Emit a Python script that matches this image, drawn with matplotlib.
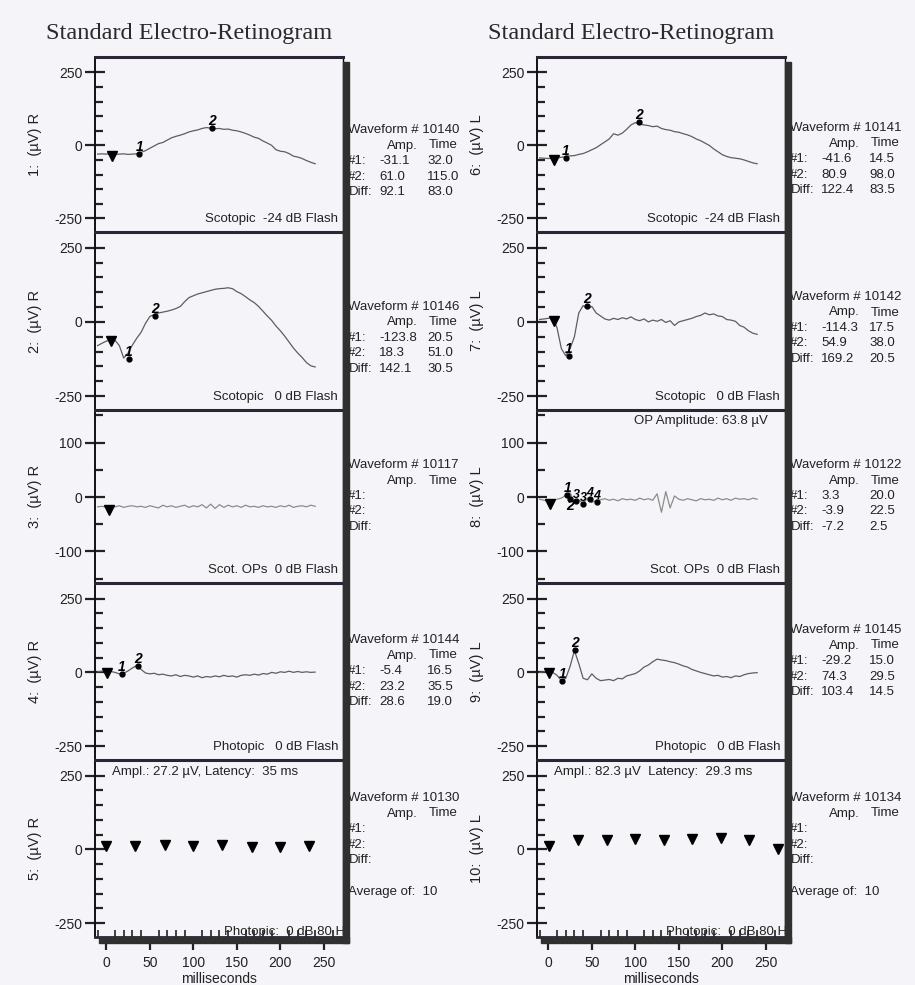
import numpy as np
import matplotlib
matplotlib.use('Agg')
import matplotlib.pyplot as plt
from matplotlib.patches import Rectangle
from matplotlib.ticker import FixedLocator

plt.rcParams['font.family'] = ['Liberation Sans', 'DejaVu Sans']
plt.rcParams['axes.unicode_minus'] = False

###############################################################################
# data
###############################################################################
# sample grid of the traces (ms)
time_ms = np.arange(-10, 245, 5)

# right eye
erg_r_scot24 = [-30, -29, -30, -29, -31, -30, -29, -31, -30, -29, -24, -18, -10, -2, 6, 10, 18, 26, 31, 35,
                40, 46, 50, 53, 58, 61, 59, 57, 58, 55, 56, 52, 50, 46, 41, 35, 28, 24, 15, 8,
                0, -15, -20, -22, -28, -37, -40, -45, -52, -58, -63]
erg_r_scot0 = [-80, -72, -65, -60, -62, -80, -122, -105, -78, -55, -35, -5, 18, 25, 30, 33, 36, 40, 45, 52,
               68, 82, 88, 94, 98, 102, 106, 110, 112, 113, 115, 112, 102, 95, 85, 74, 65, 52, 36, 20,
               5, -14, -30, -48, -68, -88, -105, -120, -137, -148, -152]
erg_r_ops = [-18, -17, -19, -17, -18, -16, -19, -17, -16, -18, -17, -19, -16, -18, -20, -15, -18, -16, -19, -17,
             -15, -19, -16, -18, -14, -20, -13, -21, -14, -19, -15, -18, -16, -19, -15, -18, -17, -19, -16, -18,
             -17, -19, -16, -18, -15, -19, -17, -16, -18, -15, -17]
erg_r_phot = [2, 4, 5, 3, 0, -5, -3, 5, 15, 23, 10, -2, -5, -3, -8, -6, -10, -12, -8, -14,
              -10, -12, -16, -12, -18, -14, -16, -12, -15, -10, -14, -12, -16, -10, -8, -10, -6, -9, -4, -6,
              0, -3, 2, 0, 4, 0, 3, 0, 2, 0, 1]

# left eye
erg_l_scot24 = [-43, -44, -45, -44, -42, -41, -38, -36, -35, -31, -28, -22, -15, -8, 2, 12, 22, 40, 35, 42,
                55, 70, 78, 73, 70, 68, 64, 66, 58, 54, 52, 47, 45, 40, 36, 30, 22, 16, 8, 0,
                -12, -22, -32, -38, -42, -44, -46, -50, -55, -60, -63]
erg_l_scot0 = [8, 10, 12, 15, -20, -90, -114, -90, -50, 30, 55, 45, 52, 30, 20, 10, 6, 12, 8, 14,
               10, 17, 8, 4, 10, 0, 6, 2, 8, -2, 4, -12, 0, 4, 8, 12, 18, 22, 30, 24,
               27, 20, 18, 8, 6, 2, -12, -18, -30, -38, -42]
erg_l_ops = [-4, -6, -8, -6, -4, -2, 3, 8, -10, -5, -12, -2, -10, -6, -5, -3, -6, -4, -7, -3,
             -5, -4, -6, -2, -5, -3, -6, 6, -28, 10, -20, 2, -4, -6, -3, -5, -7, -3, -5, -4,
             -6, -2, -5, -3, -6, -2, -4, -3, -5, -2, -4]
erg_l_phot = [0, 2, 3, 0, -10, -28, -20, 20, 74, 30, -20, -25, -5, -20, -28, -26, -24, -28, -20, -22,
              -12, -8, -4, 5, 18, 25, 36, 45, 42, 40, 36, 33, 28, 22, 18, 10, 5, 0, -4, -8,
              -12, -10, -16, -14, -18, -12, -14, -8, -4, -2, -1]

# flicker response markers (30 Hz, no trace printed)
flick_t_r = [0, 33, 67, 100, 133, 167, 200, 233]
flick_a_r = [12, 12, 16, 12, 14, 7, 9, 11]
flick_t_l = [1, 34, 67, 100, 133, 165, 199, 231, 264]
flick_a_l = [11, 31, 31, 35, 31, 36, 38, 33, 3]

# flash onset (triangle) per panel, ms
flash_r = [6, 5, 3, 1]
flash_l = [6, 6, 2, 1]

# waveform tables
wave_no_r = ['10140', '10146', '10117', '10144', '10130']
amp1_r = [-31.1, -123.8, None, -5.4, None]
time1_r = [32.0, 20.5, None, 16.5, None]
amp2_r = [61.0, 18.3, None, 23.2, None]
time2_r = [115.0, 51.0, None, 35.5, None]
diffa_r = [92.1, 142.1, None, 28.6, None]
difft_r = [83.0, 30.5, None, 19.0, None]

wave_no_l = ['10141', '10142', '10122', '10145', '10134']
amp1_l = [-41.6, -114.3, 3.3, -29.2, None]
time1_l = [14.5, 17.5, 20.0, 15.0, None]
amp2_l = [80.9, 54.9, -3.9, 74.3, None]
time2_l = [98.0, 38.0, 22.5, 29.5, None]
diffa_l = [122.4, 169.2, -7.2, 103.4, None]
difft_l = [83.5, 20.5, 2.5, 14.5, None]

# extra OP peak labels in panel 8 (time after flash, amplitude)
op_lab = ['3', '3', '4', '4']
op_time = [30, 38, 46, 54]
op_amp = [-8, -12, -4, -10]

cond_r = ['Scotopic  -24 dB Flash', 'Scotopic   0 dB Flash', 'Scot. OPs  0 dB Flash',
          'Photopic   0 dB Flash', 'Photopic:  0 dB 80 Hz']
cond_l = cond_r
ylab_r = ['1:  (\u00b5V) R', '2:  (\u00b5V) R', '3:  (\u00b5V) R', '4:  (\u00b5V) R', '5:  (\u00b5V) R']
ylab_l = ['6:  (\u00b5V) L', '7:  (\u00b5V) L', '8:  (\u00b5V) L', '9:  (\u00b5V) L', '10:  (\u00b5V) L']
flick_txt_r = 'Ampl.: 27.2 \u00b5V, Latency:  35 ms'
flick_txt_l = 'Ampl.: 82.3 \u00b5V  Latency:  29.3 ms'
op_txt_l = 'OP Amplitude: 63.8 \u00b5V'

###############################################################################
# layout (pixels of the 915 x 985 page)
###############################################################################
W, H = 915, 985
paper = '#f5f4f8'
ink = '#222222'
rows = [(57, 232), (232, 410), (410, 583), (583, 760), (760, 937)]
table_y_r = [130, 307, 465, 640, 798]
table_y_l = [128, 297, 465, 630, 798]

fig = plt.figure(figsize=(W / 100, H / 100), dpi=100)
fig.patch.set_facecolor(paper)


def px_axes(x0, y0, x1, y1):
    return fig.add_axes([x0 / W, 1 - y1 / H, (x1 - x0) / W, (y1 - y0) / H])


def ftxt(x, y, s, **kw):
    fig.text(x / W, 1 - y / H, s, fontsize=9.5, color=ink, va='center', **kw)


def fmt(v):
    return '' if v is None else '%.1f' % v


def column(x0, x1, traces, flash, flick_t, flick_a, waves, a1, t1, a2, t2, da, dt,
           conds, ylabs, table_y, flick_txt, title):
    fig.text((x0 - 49) / W, 1 - 33 / H, title, family='Liberation Serif', fontsize=17.6,
             color='#2a2a2a', va='center', ha='left')
    for i, (y0, y1) in enumerate(rows):
        ax = px_axes(x0, y0, x1, y1)
        ax.set_facecolor(paper)
        ax.set_xlim(-13, 272)
        if i == 2:
            ax.set_ylim(-158, 160)
            ax.set_yticks([-100, 0, 100])
            ax.yaxis.set_minor_locator(FixedLocator([-150, -50, 50, 150]))
        else:
            ax.set_ylim(-297, 303)
            ax.set_yticks([-250, 0, 250])
            ax.yaxis.set_minor_locator(FixedLocator([-200, -150, -100, -50, 50, 100, 150, 200]))
        ax.tick_params(axis='y', which='major', direction='inout', length=14, width=1.6,
                       labelsize=10, colors=ink, pad=2)
        ax.tick_params(axis='y', which='minor', direction='in', length=6, width=1.6, colors=ink)
        ax.spines['left'].set_linewidth(1.4)
        ax.spines['left'].set_color('#111111')
        ax.spines['top'].set_linewidth(2.2)
        ax.spines['top'].set_color('#2b2535')
        ax.spines['right'].set_linewidth(1.0)
        ax.set_ylabel(ylabs[i], fontsize=10.5, color=ink)
        ax.yaxis.set_label_coords(-0.215, 0.5)

        if i < 4:
            ax.spines['bottom'].set_visible(False)
            ax.set_xticks([])
            tr = traces[i]
            col = '#8c8c8c' if i == 2 else '#5e5e5e'
            ax.plot(time_ms, tr, color=col, lw=0.9)
            ax.plot(flash[i], np.interp(flash[i], time_ms, tr) - 6, 'v', ms=6.5, color='k')
            for lab, tt, aa in [('1', t1[i], a1[i]), ('2', t2[i], a2[i])]:
                if aa is None:
                    continue
                va = 'top' if (i == 2 and lab == '2') else 'bottom'
                ax.plot(flash[i] + tt, aa, 'o', ms=3.5, color='k')
                ax.text(flash[i] + tt, aa, lab, fontsize=10, fontweight='bold', style='italic',
                        ha='center', va=va, color='k')
            ax.text(0.98, 0.075, conds[i], transform=ax.transAxes, ha='right', va='center',
                    fontsize=9.5, color=ink)
        else:
            ax.spines['bottom'].set_linewidth(2.0)
            ax.spines['bottom'].set_color('#2b2535')
            ax.plot(flick_t, flick_a, 'v', ls='none', ms=6.5, color='k')
            ax.set_xticks([0, 50, 100, 150, 200, 250])
            ax.xaxis.set_minor_locator(FixedLocator(list(range(-10, 270, 10))))
            ax.tick_params(axis='x', which='major', direction='out', length=9, width=1.6,
                           labelsize=10, colors=ink, pad=5)
            ax.tick_params(axis='x', which='minor', direction='in', length=5, width=1.2, colors=ink)
            ax.set_xlabel('milliseconds', fontsize=10, color=ink, labelpad=1)
            ax.text(0.07, 0.93, flick_txt, transform=ax.transAxes, ha='left', va='center',
                    fontsize=9.5, color=ink)
            ax.text(1.035, 0.03, conds[i], transform=ax.transAxes, ha='right', va='center',
                    fontsize=9.5, color=ink, clip_on=True)

        # waveform table at the right of the panel
        ty = table_y[i]
        tx = x1 + 5
        ftxt(tx, ty, 'Waveform # ' + waves[i])
        ftxt(tx + 70, ty + 15.5, 'Amp.', ha='right')
        ftxt(tx + 81, ty + 15.5, 'Time')
        ftxt(tx, ty + 31, '#1:')
        ftxt(tx, ty + 46.5, '#2:')
        ftxt(tx + 1, ty + 62, 'Diff:')
        ftxt(tx + 31, ty + 31, fmt(a1[i]))
        ftxt(tx + 31, ty + 46.5, fmt(a2[i]))
        ftxt(tx + 31, ty + 62, fmt(da[i]))
        ftxt(tx + 79, ty + 31, fmt(t1[i]))
        ftxt(tx + 79, ty + 46.5, fmt(t2[i]))
        ftxt(tx + 79, ty + 62, fmt(dt[i]))
        if i == 4:
            ftxt(tx, ty + 94, 'Average of:  10')
        yield ax

    # drop shadow of the chart box
    fig.patches.append(Rectangle((x1 / W, 1 - 943 / H), 6 / W, (943 - 62) / H,
                                 transform=fig.transFigure, color='#303030', zorder=5))
    fig.patches.append(Rectangle(((x0 + 4) / W, 1 - 943 / H), (x1 - x0 + 2) / W, 6 / H,
                                 transform=fig.transFigure, color='#303030', zorder=5))


axes_r = list(column(95, 343, [erg_r_scot24, erg_r_scot0, erg_r_ops, erg_r_phot], flash_r,
                     flick_t_r, flick_a_r, wave_no_r, amp1_r, time1_r, amp2_r, time2_r,
                     diffa_r, difft_r, cond_r, ylab_r, table_y_r, flick_txt_r,
                     'Standard Electro-Retinogram'))
axes_l = list(column(537, 785, [erg_l_scot24, erg_l_scot0, erg_l_ops, erg_l_phot], flash_l,
                     flick_t_l, flick_a_l, wave_no_l, amp1_l, time1_l, amp2_l, time2_l,
                     diffa_l, difft_l, cond_l, ylab_l, table_y_l, flick_txt_l,
                     'Standard Electro-Retinogram'))

# OP panel of the left eye: further peak labels and header
ax8 = axes_l[2]
for lab, tt, aa in zip(op_lab, op_time, op_amp):
    ax8.plot(flash_l[2] + tt, aa, 'o', ms=3.5, color='k')
    ax8.text(flash_l[2] + tt, aa, lab, fontsize=9, fontweight='bold', style='italic',
             ha='center', va='bottom', color='k')
ax8.text(0.93, 0.935, op_txt_l, transform=ax8.transAxes, ha='right', va='center',
         fontsize=9.5, color=ink)

plt.savefig('out.png', dpi=100, facecolor=paper)
